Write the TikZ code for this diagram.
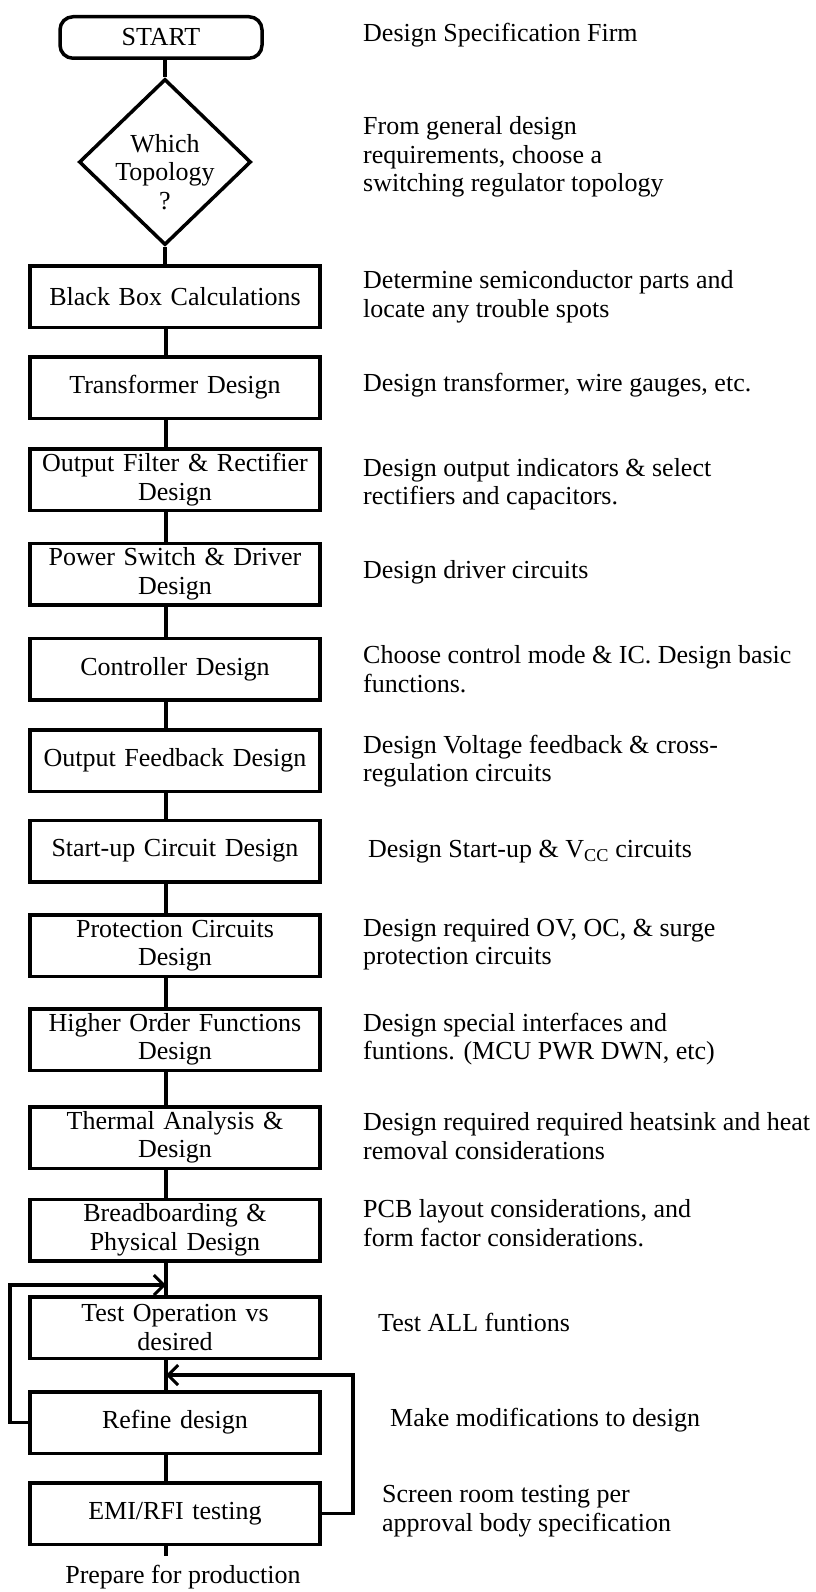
\documentclass[tikz,border=0pt]{standalone}
\usepackage{fontspec}
\setmainfont{Liberation Serif}
\usetikzlibrary{shapes.geometric,arrows.meta}
\begin{document}
\begin{tikzpicture}[x=1pt,y=-1pt,
  every node/.style={font=\fontsize{26}{28.5}\selectfont, inner sep=0pt},
  stepbox/.style={draw, line width=3.5pt, minimum width=290pt, minimum height=61.5pt, align=center, text width=284pt},
  conn/.style={line width=3.5pt},
  fb/.style={line width=3.5pt, -{Straight Barb[length=10pt,width=20pt,line width=3pt]}},
  note/.style={anchor=west, align=left}]
\useasboundingbox (0,0) rectangle (815,1592);
\coordinate (sp) at (166,0);
\coordinate (lft) at (10,0);
\coordinate (rgt) at (353,0);
% start and decision
\node[draw, line width=3.5pt, rounded corners=13pt, minimum width=202pt, minimum height=41.5pt] (start) at (161,37.5) {START};
\node[draw, diamond, line width=3.5pt, minimum width=172pt, minimum height=166pt] (topo) at (165,162) {};
\node[align=center] (topotxt) at (165,172) {Which\\Topology\\?};
% process boxes
\node[stepbox] (b1) at (175,296.5) {Black Box Calculations};
\node[stepbox] (b2) at (175,387.5) {Transformer Design};
\node[stepbox] (b3) at (175,479.5) {Output Filter \& Rectifier\\Design};
\node[stepbox] (b4) at (175,574) {Power Switch \& Driver\\Design};
\node[stepbox] (b5) at (175,669) {Controller Design};
\node[stepbox] (b6) at (175,760.5) {Output Feedback Design};
\node[stepbox] (b7) at (175,851) {Start-up Circuit Design};
\node[stepbox] (b8) at (175,945.5) {Protection Circuits\\Design};
\node[stepbox] (b9) at (175,1039.5) {Higher Order Functions\\Design};
\node[stepbox] (b10) at (175,1137.5) {Thermal Analysis \&\\Design};
\node[stepbox] (b11) at (175,1230) {Breadboarding \&\\Physical Design};
\node[stepbox] (b12) at (175,1327.5) {Test Operation vs\\desired};
\node[stepbox] (b13) at (175,1422.5) {Refine design};
\node[stepbox] (b14) at (175,1513.5) {EMI/RFI testing};
\coordinate (endp) at (166,1556);
\node (prod) at (183,1577) {Prepare for production};
% connectors
\draw[conn] (start.south -| topo.north) -- (topo.north);
\draw[conn] (topo.south) -- (b1.north -| topo.south);
\foreach \a/\b in {b1/b2,b2/b3,b3/b4,b4/b5,b5/b6,b6/b7,b7/b8,b8/b9,b9/b10,b10/b11,b11/b12,b12/b13,b13/b14}
  \draw[conn] (\a.south -| sp) -- (\b.north -| sp);
\draw[conn] (b14.south -| sp) -- (endp);
% feedback loops
\coordinate (fbl) at (166,1285);
\coordinate (fbr) at (166,1375);
\draw[fb] (b13.west) -- (b13.west -| lft) |- (fbl);
\draw[fb] (b14.east) -- (b14.east -| rgt) |- (fbr);
% notes
\node[note] (n0) at (363,35) {Design Specification Firm};
\node[note] (n1) at (363,157) {From general design\\requirements, choose a\\switching regulator topology};
\node[note] (n2) at (363,297) {Determine semiconductor parts and\\locate any trouble spots};
\node[note] (n3) at (363,385) {Design transformer, wire gauges, etc.};
\node[note] (n4) at (363,484) {Design output indicators \& select\\rectifiers and capacitors.};
\node[note] (n5) at (363,572) {Design driver circuits};
\node[note] (n6) at (363,669) {Choose control mode \& IC. Design basic\\functions.};
\node[note] (n7) at (363,761) {Design Voltage feedback \& cross-\\regulation circuits};
\node[note] (n8) at (368,852) {Design Start-up \& V\textsubscript{CC} circuits};
\node[note] (n9) at (363,944) {Design required OV, OC, \& surge\\protection circuits};
\node[note] (n10) at (363,1039) {Design special interfaces and\\funtions. (MCU PWR DWN, etc)};
\node[note] (n11) at (363,1136) {Design required required heatsink and heat\\removal considerations};
\node[note] (n12) at (363,1223) {PCB layout considerations, and\\form factor considerations.};
\node[note] (n13) at (378,1322) {Test ALL funtions};
\node[note] (n14) at (390,1420) {Make modifications to design};
\node[note] (n15) at (382,1511) {Screen room testing per\\approval body specification};
\end{tikzpicture}
\end{document}
